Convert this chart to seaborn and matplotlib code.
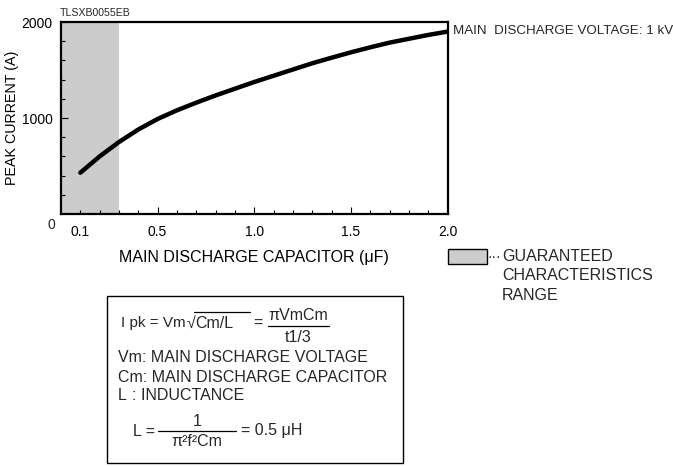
import matplotlib
matplotlib.use("Agg")
import matplotlib.pyplot as plt
from matplotlib.patches import Rectangle
from matplotlib.lines import Line2D
import pandas as pd
import seaborn as sns

# values (V = 1 kV)
capacitance = [0.1, 0.2, 0.3, 0.4, 0.5, 0.6, 0.7, 0.8, 0.9, 1.0,
               1.1, 1.2, 1.3, 1.4, 1.5, 1.6, 1.7, 1.8, 1.9, 2.0]
peak_current = [430, 600, 750, 880, 990, 1080, 1160, 1235, 1305, 1375,
                1440, 1505, 1570, 1628, 1684, 1736, 1785, 1825, 1865, 1900]
guaranteed_range = [0.0, 0.3]
x_ticks = [0.1, 0.5, 1.0, 1.5, 2.0]
x_tick_labels = ["0.1", "0.5", "1.0", "1.5", "2.0"]
y_ticks = [1000, 2000]
y_tick_labels = ["1000", "2000"]

df = pd.DataFrame({"cap": capacitance, "current": peak_current})

sns.set_theme(style="ticks")
plt.rcParams["font.family"] = ["Liberation Sans", "DejaVu Sans"]

W, H = 673, 466
fig = plt.figure(figsize=(W / 100, H / 100), dpi=100)


# helpers: pixel position (from top-left) -> figure fraction
def fx(px):
    return px / W


def fy(py):
    return 1 - py / H


ax = fig.add_axes([fx(61), fy(214), fx(447.5) - fx(61), fy(22) - fy(214)])

ax.axvspan(guaranteed_range[0], guaranteed_range[1], color="#cccccc", lw=0, zorder=0)
sns.lineplot(data=df, x="cap", y="current", ax=ax, color="black", linewidth=3.2,
             solid_capstyle="round")

ax.set_xlim(0, 2.0)
ax.set_ylim(0, 2000)
ax.set_xticks(x_ticks)
ax.set_xticklabels(x_tick_labels)
ax.set_xticks([i / 10 for i in range(1, 20)], minor=True)
ax.set_yticks(y_ticks)
ax.set_yticklabels(y_tick_labels)
ax.set_yticks([200, 400, 600, 800, 1200, 1400, 1600, 1800], minor=True)

ax.tick_params(which="major", direction="in", length=5, width=0.8, labelsize=10,
               color="black", labelcolor="black")
ax.tick_params(which="minor", direction="in", length=3, width=0.8, color="black")
ax.tick_params(axis="x", which="major", pad=8)
ax.tick_params(axis="y", which="major", pad=6)
# the 0.1 tick is a short one in the original
ax.xaxis.get_major_ticks()[0].tick1line.set_markersize(3)

for s in ax.spines.values():
    s.set_linewidth(1.6)
    s.set_color("black")
    s.set_visible(True)

ax.set_xlabel("MAIN DISCHARGE CAPACITOR (\u03bcF)", fontsize=11.5, labelpad=8, color="black")
ax.set_ylabel("PEAK CURRENT (A)", fontsize=10.3, labelpad=2, color="black")

fig.text(fx(51), fy(225), "0", fontsize=10, ha="center", va="center")
fig.text(fx(60), fy(12.5), "TLSXB0055EB", fontsize=7.6, ha="left", va="center")
fig.text(fx(453), fy(31), "MAIN  DISCHARGE VOLTAGE: 1 kV", fontsize=9.6,
         ha="left", va="center")

# legend for the shaded range
fig.add_artist(Rectangle((fx(448), fy(264)), fx(487) - fx(448), fy(249) - fy(264),
                         transform=fig.transFigure, facecolor="#cccccc",
                         edgecolor="black", lw=1.0))
fs = 11.5
fig.text(fx(487.5), fy(256.5), "\u00b7\u00b7\u00b7", fontsize=10, ha="left", va="center")
fig.text(fx(502), fy(256.5), "GUARANTEED", fontsize=fs, ha="left", va="center")
fig.text(fx(502), fy(276), "CHARACTERISTICS", fontsize=fs, ha="left", va="center")
fig.text(fx(502), fy(295), "RANGE", fontsize=fs, ha="left", va="center")

# formula box
fig.add_artist(Rectangle((fx(107), fy(463)), fx(403) - fx(107), fy(296) - fy(463),
                         transform=fig.transFigure, facecolor="white",
                         edgecolor="black", lw=1.0))


def hline(x0, x1, y):
    fig.add_artist(Line2D([fx(x0), fx(x1)], [fy(y), fy(y)], transform=fig.transFigure,
                          color="black", lw=0.9))


# first formula, shifted a little to make room for the larger text
dx = 4
fig.text(fx(121), fy(323), "I pk = Vm", fontsize=11, ha="left", va="center")
fig.text(fx(183 + dx), fy(323.5), "\u221a", fontsize=fs, ha="left", va="center")
fig.text(fx(191 + dx), fy(323), "Cm/L", fontsize=fs, ha="left", va="center")
hline(190 + dx, 246 + dx, 312)
fig.text(fx(249 + dx), fy(323), "=", fontsize=fs, ha="left", va="center")
fig.text(fx(294 + dx), fy(315), "\u03c0VmCm", fontsize=fs, ha="center", va="center")
hline(264 + dx, 325 + dx, 326)
fig.text(fx(294 + dx), fy(338), "t1/3", fontsize=fs, ha="center", va="center")

fig.text(fx(118), fy(358), "Vm: MAIN DISCHARGE VOLTAGE", fontsize=fs, ha="left", va="center")
fig.text(fx(118), fy(377), "Cm: MAIN DISCHARGE CAPACITOR", fontsize=fs, ha="left", va="center")
fig.text(fx(118), fy(396), "L", fontsize=fs, ha="left", va="center")
fig.text(fx(132), fy(396), ": INDUCTANCE", fontsize=fs, ha="left", va="center")

fig.text(fx(133), fy(431), "L =", fontsize=fs, ha="left", va="center")
fig.text(fx(197), fy(421), "1", fontsize=fs, ha="center", va="center")
hline(158, 236, 431)
fig.text(fx(197), fy(442), "\u03c0\u00b2f\u00b2Cm", fontsize=fs, ha="center", va="center")
fig.text(fx(241), fy(431), "= 0.5 \u03bcH", fontsize=fs, ha="left", va="center")

fig.savefig("out.png", dpi=100)
